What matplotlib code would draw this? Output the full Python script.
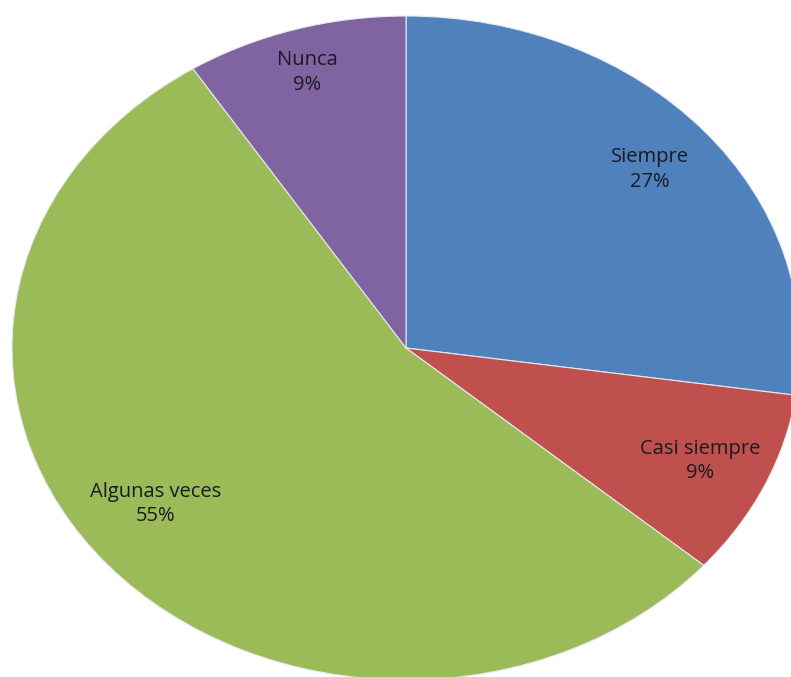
import matplotlib.pyplot as plt

# datos de la encuesta (11 respuestas)
categorias = ['Siempre', 'Casi siempre', 'Algunas veces', 'Nunca']
respuestas = [3, 1, 6, 1]
colores = ['#4F81BD', '#C0504D', '#9BBB59', '#8064A2']

plt.rcParams['font.family'] = ['Open Sans', 'DejaVu Sans']

fig = plt.figure(figsize=(7.91, 6.77), dpi=100)
# ejes estirados para que la torta quede ovalada como en el original
ax = fig.add_axes([12 / 791, -3 / 677, 788 / 791, 664 / 677])

etiquetas_pct = iter(categorias)


def formato(pct):
    return f"{next(etiquetas_pct)}\n{pct:.0f}%"


wedges, textos, autotextos = ax.pie(
    respuestas,
    colors=colores,
    startangle=90,
    counterclock=False,
    autopct=formato,
    pctdistance=0.82,
    wedgeprops=dict(edgecolor='#E8E8F0', linewidth=0.8),
    textprops=dict(fontsize=14.5, color='#1a1a22', linespacing=1.3),
)

# pequeños ajustes de posición de algunas etiquetas
autotextos[2].set_position((-0.635, -0.47))
autotextos[3].set_position((-0.25, 0.83))

ax.set_aspect('auto')
ax.set_xlim(-1, 1)
ax.set_ylim(-1, 1)
ax.axis('off')

fig.savefig('out.png', dpi=100)
plt.close(fig)
